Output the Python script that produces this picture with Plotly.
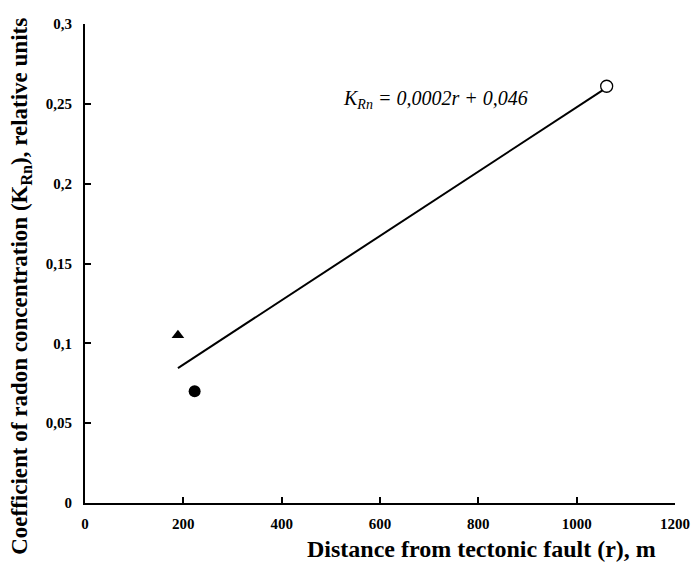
import numpy as np
import plotly.graph_objects as go

# Data
tri_r = [189]
tri_k = [0.105]
dot_r = [223]
dot_k = [0.070]
open_r = [1061]
open_k = [0.261]

x_ticks = [0, 200, 400, 600, 800, 1000, 1200]
y_ticks = [0, 0.05, 0.1, 0.15, 0.2, 0.25, 0.3]
y_ticktext = ["0", "0,05", "0,1", "0,15", "0,2", "0,25", "0,3"]

equation_text = "<i>K<sub>Rn</sub> = 0,0002r + 0,046</i>"
x_title = "<b>Distance from tectonic fault (r), m</b>"
y_title = "<b>Coefficient of radon concentration (K<sub>Rn</sub>), relative units</b>"

# Linear trend fitted to all points
all_r = np.array(tri_r + dot_r + open_r, dtype=float)
all_k = np.array(tri_k + dot_k + open_k, dtype=float)
slope, intercept = np.polyfit(all_r, all_k, 1)
trend_r = [all_r.min(), all_r.max()]
trend_k = [slope * v + intercept for v in trend_r]

SERIF = "Liberation Serif"

fig = go.Figure()
fig.add_trace(go.Scatter(x=trend_r, y=trend_k, mode="lines",
                         line=dict(color="black", width=2), showlegend=False))
fig.add_trace(go.Scatter(x=tri_r, y=tri_k, mode="markers",
                         marker=dict(symbol="triangle-up", size=11, color="black"),
                         showlegend=False))
fig.add_trace(go.Scatter(x=dot_r, y=dot_k, mode="markers",
                         marker=dict(symbol="circle", size=12, color="black"),
                         showlegend=False))
fig.add_trace(go.Scatter(x=open_r, y=open_k, mode="markers",
                         marker=dict(symbol="circle", size=12, color="white",
                                     line=dict(color="black", width=1.3)),
                         showlegend=False))

axis_common = dict(
    showgrid=False, zeroline=False, showline=True, linecolor="black", linewidth=2,
    ticks="inside", ticklen=6, tickwidth=2, tickcolor="black",
    tickfont=dict(family=SERIF, size=15, color="black", weight="bold"),
)

fig.update_xaxes(range=[0, 1200], tickvals=x_ticks, ticklabelstandoff=6, **axis_common)
fig.update_yaxes(range=[0, 0.3], tickvals=y_ticks, ticktext=y_ticktext,
                 ticklabelstandoff=8, **axis_common)

fig.add_annotation(x=520, y=0.253, xref="x", yref="y", text=equation_text,
                   showarrow=False, xanchor="left", yanchor="middle",
                   font=dict(family=SERIF, size=20, color="black"))
fig.add_annotation(x=0.3725, y=-0.0965, xref="paper", yref="paper", text=x_title,
                   showarrow=False, xanchor="left", yanchor="middle",
                   font=dict(family=SERIF, size=24, color="black"))
fig.add_annotation(x=-0.108, y=0.452, xref="paper", yref="paper", text=y_title,
                   showarrow=False, textangle=-90, xanchor="center", yanchor="middle",
                   font=dict(family=SERIF, size=23, color="black"))

# The page adds an 8 px body margin, so the figure is drawn 8 px in from the corner
fig.update_layout(
    width=690, height=554,
    margin=dict(l=77, r=17, t=8, b=59),
    plot_bgcolor="white", paper_bgcolor="white",
    font=dict(family=SERIF, color="black"),
)

fig.write_html("out.html")
